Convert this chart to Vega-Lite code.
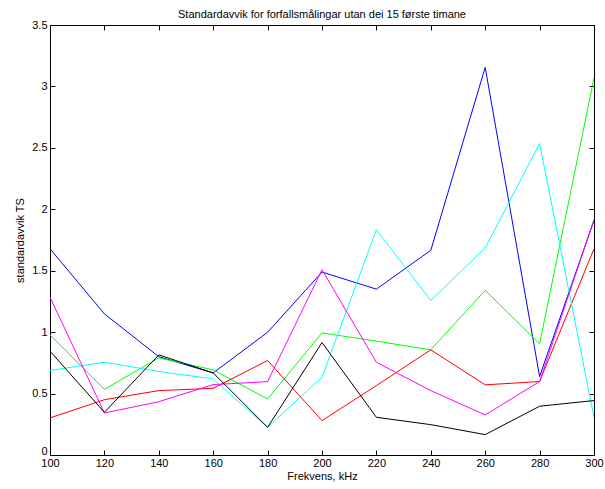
{
  "$schema": "https://vega.github.io/schema/vega-lite/v6.json",
  "autosize": "none",
  "width": 544,
  "height": 430,
  "padding": {"left": 50, "top": 25, "right": 11, "bottom": 34},
  "background": "white",
  "title": {"text": "Standardavvik for forfallsmålingar utan dei 15 første timane", "font": "Liberation Sans", "fontSize": 11, "fontWeight": "normal", "color": "#000000", "offset": -1},
  "config": {
    "view": {"stroke": "#000000", "strokeWidth": 1},
    "axis": {"labelFont": "Liberation Sans", "titleFont": "Liberation Sans", "labelFontSize": 11, "titleFontSize": 11, "titleFontWeight": "normal", "labelColor": "#000000", "titleColor": "#000000", "domainColor": "#000000", "tickColor": "#000000", "grid": false, "tickSize": -5, "domain": true}
  },
  "data": {"values": [
    {"f":100,"s":"b","v":1.679},{"f":120,"s":"b","v":1.149},{"f":140,"s":"b","v":0.80},{"f":160,"s":"b","v":0.668},{"f":180,"s":"b","v":0.999},{"f":200,"s":"b","v":1.489},{"f":220,"s":"b","v":1.35},{"f":240,"s":"b","v":1.666},{"f":260,"s":"b","v":3.155},{"f":280,"s":"b","v":0.639},{"f":300,"s":"b","v":1.91},
    {"f":100,"s":"g","v":0.978},{"f":120,"s":"g","v":0.535},{"f":140,"s":"g","v":0.79},{"f":160,"s":"g","v":0.693},{"f":180,"s":"g","v":0.456},{"f":200,"s":"g","v":0.994},{"f":220,"s":"g","v":0.927},{"f":240,"s":"g","v":0.856},{"f":260,"s":"g","v":1.34},{"f":280,"s":"g","v":0.905},{"f":300,"s":"g","v":3.07},
    {"f":100,"s":"r","v":0.302},{"f":120,"s":"r","v":0.45},{"f":140,"s":"r","v":0.524},{"f":160,"s":"r","v":0.543},{"f":180,"s":"r","v":0.769},{"f":200,"s":"r","v":0.28},{"f":220,"s":"r","v":0.565},{"f":240,"s":"r","v":0.856},{"f":260,"s":"r","v":0.571},{"f":280,"s":"r","v":0.598},{"f":300,"s":"r","v":1.679},
    {"f":100,"s":"c","v":0.688},{"f":120,"s":"c","v":0.755},{"f":140,"s":"c","v":0.68},{"f":160,"s":"c","v":0.619},{"f":180,"s":"c","v":0.225},{"f":200,"s":"c","v":0.633},{"f":220,"s":"c","v":1.834},{"f":240,"s":"c","v":1.258},{"f":260,"s":"c","v":1.685},{"f":280,"s":"c","v":2.535},{"f":300,"s":"c","v":0.307},
    {"f":100,"s":"m","v":1.285},{"f":120,"s":"m","v":0.342},{"f":140,"s":"m","v":0.434},{"f":160,"s":"m","v":0.573},{"f":180,"s":"m","v":0.597},{"f":200,"s":"m","v":1.508},{"f":220,"s":"m","v":0.755},{"f":240,"s":"m","v":0.524},{"f":260,"s":"m","v":0.326},{"f":280,"s":"m","v":0.598},{"f":300,"s":"m","v":1.916},
    {"f":100,"s":"k","v":0.845},{"f":120,"s":"k","v":0.347},{"f":140,"s":"k","v":0.815},{"f":160,"s":"k","v":0.668},{"f":180,"s":"k","v":0.225},{"f":200,"s":"k","v":0.915},{"f":220,"s":"k","v":0.307},{"f":240,"s":"k","v":0.247},{"f":260,"s":"k","v":0.166},{"f":280,"s":"k","v":0.397},{"f":300,"s":"k","v":0.443}
  ]},
  "layer": [
    {
      "mark": {"type": "line", "strokeWidth": 1, "clip": true},
      "encoding": {
        "x": {"field": "f", "type": "quantitative", "scale": {"domain": [100, 300], "nice": false, "zero": false}, "axis": {"title": "Frekvens, kHz", "values": [100,120,140,160,180,200,220,240,260,280,300], "labelPadding": 7, "titlePadding": 2, "labelFlush": false}},
        "y": {"field": "v", "type": "quantitative", "scale": {"domain": [0, 3.5], "nice": false}, "axis": {"title": "standardavvik TS", "values": [0,0.5,1,1.5,2,2.5,3,3.5], "format": "~g", "labelPadding": 8, "titlePadding": 6, "labelOffset": {"condition": {"test": "datum.value === 0", "value": -4}, "value": 0}}},
        "color": {"field": "s", "type": "nominal", "scale": {"domain": ["b","g","r","c","m","k"], "range": ["#0000ff","#00ff00","#ff0000","#00ffff","#ff00ff","#000000"]}, "legend": null},
        "order": {"field": "f", "type": "quantitative"}
      }
    },
    {
      "mark": {"type": "point", "opacity": 0},
      "encoding": {
        "x": {"field": "f", "type": "quantitative", "scale": {"domain": [100, 300], "nice": false, "zero": false}, "axis": {"orient": "top", "title": null, "labels": false, "values": [100,120,140,160,180,200,220,240,260,280,300]}},
        "y": {"field": "v", "type": "quantitative", "scale": {"domain": [0, 3.5], "nice": false}, "axis": {"orient": "right", "title": null, "labels": false, "values": [0,0.5,1,1.5,2,2.5,3,3.5]}}
      }
    }
  ],
  "resolve": {"axis": {"x": "independent", "y": "independent"}}
}
